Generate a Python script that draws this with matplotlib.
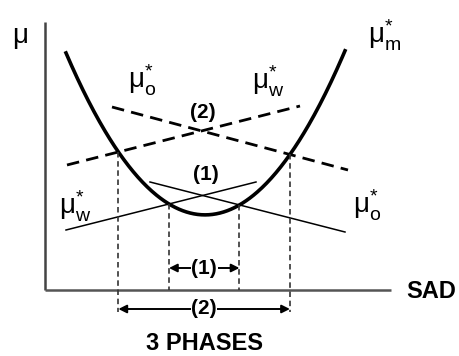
import numpy as np
import matplotlib.pyplot as plt

plt.rcParams['font.family'] = ['Liberation Sans', 'DejaVu Sans']
plt.rcParams['mathtext.default'] = 'regular'

# chemical potential of the microemulsion vs salinity (SAD)
mu_m_sad = [21, 72, 125, 160, 192, 247, 300]
mu_m_val = [238, 138, 85, 77, 85, 136, 240]

# excess phases: oil (o) and water (w) potentials, end points (sad, mu)
# (2) = dashed pair, (1) = solid pair
mu_o_2 = [(67, 183), (303, 120)]
mu_w_2 = [(22, 125), (255, 184)]
mu_w_1 = [(21, 60), (211, 108)]
mu_o_1 = [(105, 108), (300, 58)]

coef = np.polyfit(mu_m_sad, mu_m_val, 2)


def line_coef(pts):
    (x0, y0), (x1, y1) = pts
    m = (y1 - y0) / (x1 - x0)
    return m, y0 - m * x0


def crossing(pts, side):
    m, b = line_coef(pts)
    r = np.roots([coef[0], coef[1] - m, coef[2] - b])
    r = np.sort(np.real(r))
    x = r[0] if side == 'left' else r[1]
    return x, m * x + b


fig = plt.figure(figsize=(4.59, 3.56), dpi=100)
ax = fig.add_axes([0, 0, 1, 1])
ax.set_xlim(-45, 414)
ax.set_ylim(-66, 290)
ax.axis('off')

# axes of the sketch
ax.plot([0, 0], [0, 268], color='#444444', lw=1.8, solid_capstyle='butt')
ax.plot([0, 346], [0, 0], color='#555555', lw=1.8, solid_capstyle='butt')

xs = np.linspace(mu_m_sad[0], mu_m_sad[-1], 300)
ax.plot(xs, np.polyval(coef, xs), color='black', lw=2.6)

for pts in (mu_o_2, mu_w_2):
    ax.plot(*zip(*pts), color='black', lw=2.0, dashes=(4.5, 2.6))
for pts in (mu_w_1, mu_o_1):
    ax.plot(*zip(*pts), color='black', lw=1.1)

# phase boundaries
xl2, yl2 = crossing(mu_w_2, 'left')
xr2, yr2 = crossing(mu_o_2, 'right')
xl1, yl1 = crossing(mu_w_1, 'left')
xr1, yr1 = crossing(mu_o_1, 'right')

vd = dict(color='#333333', lw=1.2, dashes=(3.3, 2.2))
ax.plot([xl2, xl2], [yl2, -22], **vd)
ax.plot([xr2, xr2], [yr2, -22], **vd)
ax.plot([xl1, xl1], [yl1, 0], **vd)
ax.plot([xr1, xr1], [yr1, 0], **vd)

arr = dict(arrowstyle='<|-|>', color='black', lw=1.4,
           mutation_scale=12, shrinkA=0, shrinkB=0)
ax.annotate('', xy=(xl1, 22), xytext=(xr1, 22), arrowprops=arr)
ax.annotate('', xy=(xl2, -19), xytext=(xr2, -19), arrowprops=arr)

num = dict(ha='center', va='center', fontsize=15, fontweight='bold')
box = dict(facecolor='white', edgecolor='none', pad=0.3)
ax.text((xl1 + xr1) / 2, 22, '(1)', bbox=box, **num)
ax.text((xl2 + xr2) / 2, -19, '(2)', bbox=box, **num)

ax.text(158, 178, '(2)', **num)
ax.text(161, 116, '(1)', **num)

lab = dict(ha='center', va='center', fontsize=20)
ax.text(-25, 252, r'$\mu$', **lab)
ax.text(340, 255, r'$\mu^{*}_{m}$', **lab)
ax.text(97, 210, r'$\mu^{*}_{o}$', **lab)
ax.text(223, 209, r'$\mu^{*}_{w}$', **lab)
ax.text(30, 84, r'$\mu^{*}_{w}$', **lab)
ax.text(322, 85, r'$\mu^{*}_{o}$', **lab)

ax.text(386, -1, 'SAD', ha='center', va='center', fontsize=17,
        fontweight='bold')
ax.text(160, -53, '3 PHASES', ha='center', va='center', fontsize=17,
        fontweight='bold')

fig.savefig('out.png', dpi=100)
